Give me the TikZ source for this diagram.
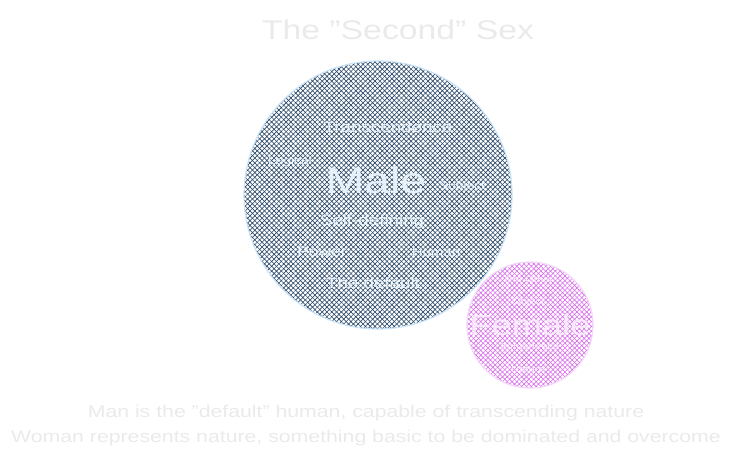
\documentclass[tikz,border=0pt]{standalone}
\usepackage{fontspec}
\setmainfont[FakeStretch=1.25]{Liberation Sans}
\usetikzlibrary{patterns.meta}

\definecolor{maleink}{HTML}{2A4868}
\definecolor{maleedge}{HTML}{C9E4F7}
\definecolor{femaleink}{HTML}{D86FEA}
\definecolor{femaleedge}{HTML}{F3D9F8}
\definecolor{faint}{HTML}{EAEAEA}
\definecolor{innertext}{HTML}{E6F1FA}

\tikzset{
    malebubble/.style={circle, draw=maleedge, line width=1.2pt,
        preaction={pattern={Lines[angle=45, distance=3.4pt, line width=0.65pt]}, pattern color=maleink},
        pattern={Lines[angle=-45, distance=3.4pt, line width=0.65pt]}, pattern color=maleink},
    femalebubble/.style={circle, draw=femaleedge, line width=1.2pt,
        preaction={pattern={Lines[angle=45, distance=3.4pt, line width=0.65pt]}, pattern color=femaleink},
        pattern={Lines[angle=-45, distance=3.4pt, line width=0.65pt]}, pattern color=femaleink},
    word/.style={text=innertext, inner sep=0pt},
    caption/.style={text=faint, inner sep=0pt}
}

\begin{document}
\begin{tikzpicture}[x=1pt, y=-1pt]
    \useasboundingbox (0,0) rectangle (733,461);

    % Title
    \node[caption, font=\fontsize{27}{27}\selectfont] (title) at (398,30) {The "Second" Sex};

    % Bubbles
    \node[malebubble, minimum size=268pt] (male) at (378,195) {};
    \node[femalebubble, minimum size=126pt] (female) at (530,325) {};

    % Words inside the male bubble
    \foreach \x/\y/\sz/\nm/\txt in {
        388/127/15/transc/{Transcendence},
        290/162/11/logic/{Logical},
        376/180/37/mword/{Male},
        462/187/11/subj/{Subject},
        372/222/15/selfdef/{Self-defining},
        322/252/14/power/{Power},
        436/252/12/human/{Human},
        373/283/15/default/{The default}
    } {
        \node[word, font=\fontsize{\sz}{\sz}\selectfont] (\nm) at (\x,\y) {\txt};
    }

    % Words inside the female bubble
    \foreach \x/\y/\sz/\nm/\txt in {
        528/279/9/other/{The Other},
        528/302/9/obj/{Object},
        530/325/29/fword/{Female},
        530/346/9/imman/{Immanence},
        528/369/9/nature/{Nature}
    } {
        \node[word, text=white!85!femaleink, font=\fontsize{\sz}{\sz}\selectfont] (\nm) at (\x,\y) {\txt};
    }

    % Caption
    \node[caption, font=\fontsize{17}{17}\selectfont] (lineone) at (366,413)
        {Man is the "default" human, capable of transcending nature};
    \node[caption, font=\fontsize{17}{17}\selectfont] (linetwo) at (366,438)
        {Woman represents nature, something basic to be dominated and overcome};
\end{tikzpicture}
\end{document}
